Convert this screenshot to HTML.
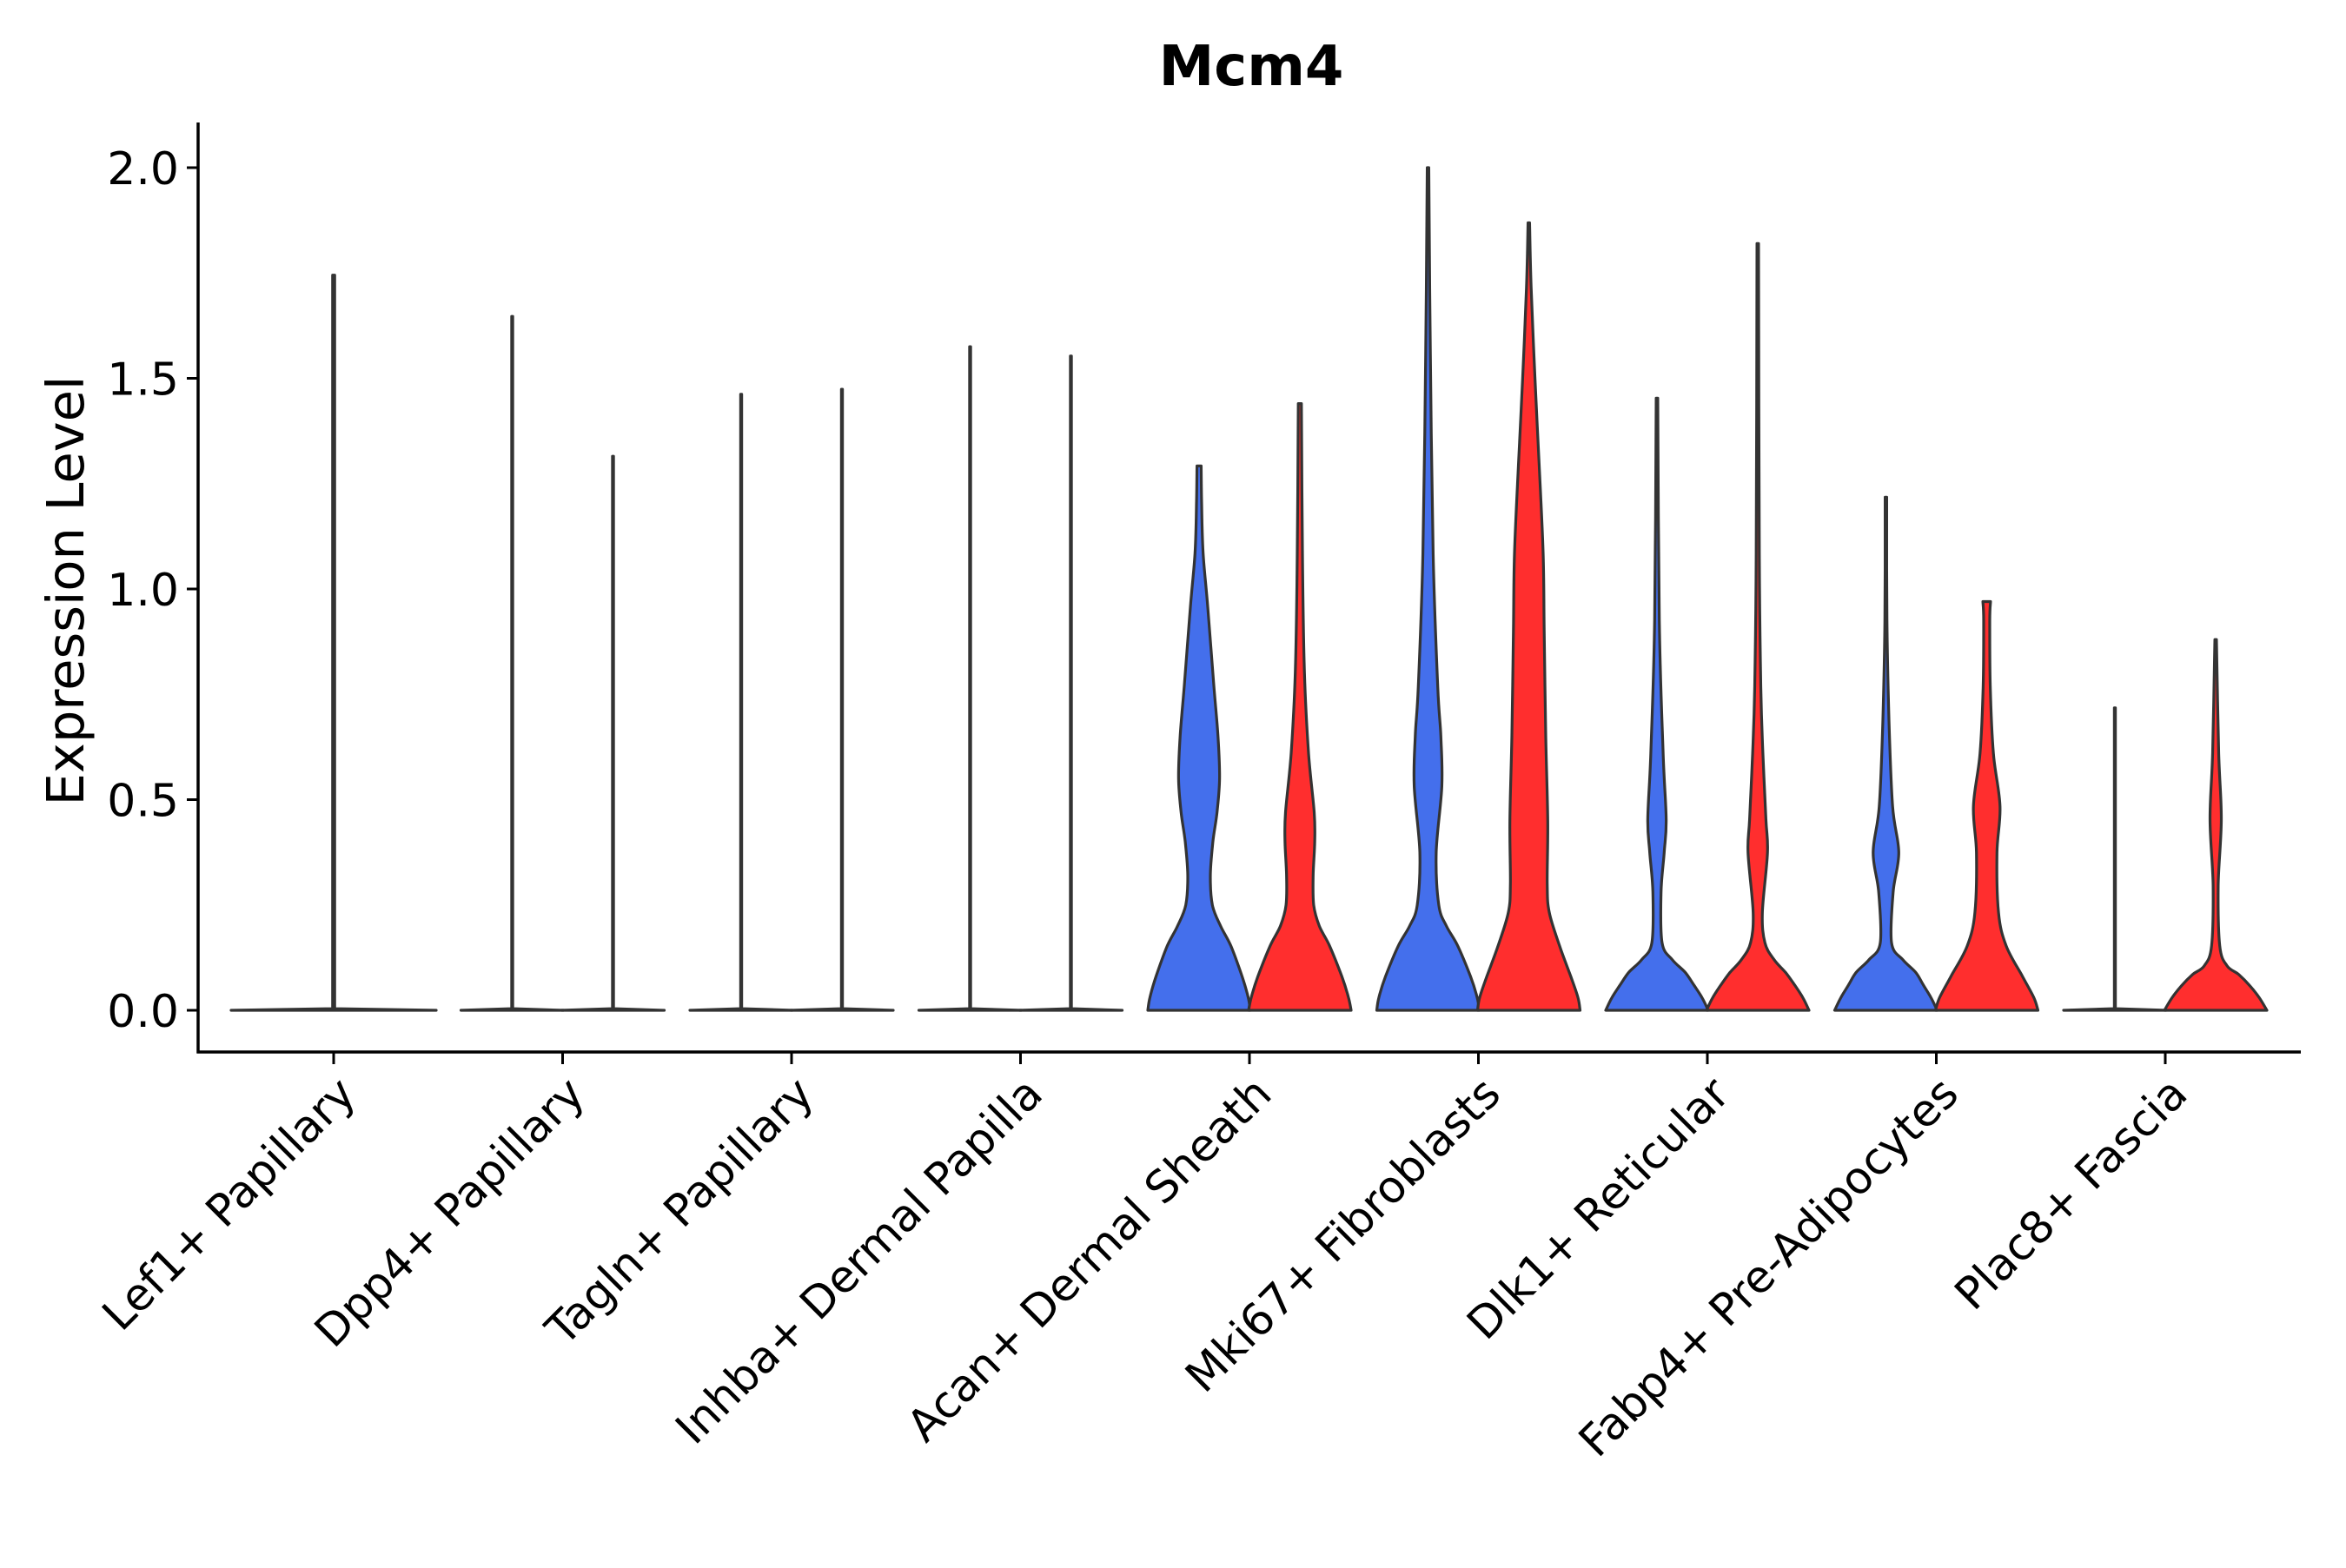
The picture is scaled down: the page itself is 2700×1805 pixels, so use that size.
<!DOCTYPE html>
<html><head><meta charset="utf-8"><style>
body{margin:0;background:#fff}
svg text{font-family:"DejaVu Sans","Liberation Sans",sans-serif}
</style></head><body>
<svg id="chart" width="2700" height="1800" viewBox="0 0 2700 1800" xmlns="http://www.w3.org/2000/svg">
<rect width="2700" height="1800" fill="#fff"/>
<text x="1440" y="98" font-size="64" font-weight="bold" text-anchor="middle">Mcm4</text>
<text transform="translate(96,680) rotate(-90)" font-size="59" text-anchor="middle">Expression Level</text>
<g id="violins"></g>
<g id="axes"></g>
</svg>
<script>
const categories = ["Lef1+ Papillary","Dpp4+ Papillary","Tagln+ Papillary","Inhba+ Dermal Papilla","Acan+ Dermal Sheath","Mki67+ Fibroblasts","Dlk1+ Reticular","Fabp4+ Pre-Adipocytes","Plac8+ Fascia"];
const yTicks = [0, 0.5, 1.0, 1.5, 2.0];
const yTickLabels = ["0.0","0.5","1.0","1.5","2.0"];
// tops of line-only violins (group1, group2)
const lineTopsG1 = [1.745, 1.647, 1.462, 1.575, null, null, null, null, 0.718];
const lineTopsG2 = [null, 1.315, 1.474, 1.553, null, null, null, null, null];
// density profiles: [value, relative half-width (0-1)]
const acanBlue = [[0,1],[0.03,0.96],[0.08,0.84],[0.153,0.62],[0.2,0.42],[0.25,0.26],[0.32,0.22],[0.4,0.27],[0.47,0.35],[0.55,0.4],[0.65,0.37],[0.768,0.29],[0.957,0.17],[1.084,0.08],[1.2,0.05],[1.292,0.04]];
const acanRed = [[0,1],[0.03,0.95],[0.08,0.82],[0.153,0.58],[0.2,0.38],[0.25,0.27],[0.32,0.26],[0.4,0.29],[0.47,0.28],[0.61,0.17],[0.8,0.09],[1.084,0.05],[1.44,0.03]];
const mkiBlue = [[0,1],[0.03,0.96],[0.08,0.83],[0.153,0.58],[0.2,0.36],[0.25,0.21],[0.374,0.16],[0.532,0.27],[0.65,0.25],[0.768,0.19],[1.084,0.1],[1.557,0.045],[2.0,0.015]];
const mkiRed = [[0,1],[0.03,0.96],[0.08,0.82],[0.153,0.6],[0.232,0.4],[0.3,0.36],[0.45,0.37],[0.65,0.33],[0.9,0.3],[1.084,0.28],[1.3,0.2],[1.5,0.12],[1.715,0.045],[1.869,0.015]];
const dlkBlue = [[0,1],[0.03,0.88],[0.06,0.72],[0.09,0.55],[0.12,0.3],[0.16,0.1],[0.28,0.08],[0.374,0.14],[0.453,0.18],[0.61,0.12],[0.926,0.045],[1.453,0.015]];
const dlkRed = [[0,1],[0.03,0.88],[0.06,0.72],[0.09,0.54],[0.12,0.32],[0.16,0.14],[0.232,0.09],[0.374,0.19],[0.453,0.16],[0.61,0.1],[0.768,0.06],[1.084,0.03],[1.82,0.015]];
const fabBlue = [[0,1],[0.03,0.88],[0.06,0.73],[0.09,0.58],[0.12,0.33],[0.16,0.11],[0.28,0.14],[0.374,0.25],[0.484,0.13],[0.689,0.06],[0.926,0.02],[1.218,0.015]];
const fabRed = [[0,1],[0.03,0.92],[0.08,0.7],[0.153,0.38],[0.232,0.23],[0.374,0.2],[0.484,0.26],[0.61,0.13],[0.768,0.07],[0.926,0.06],[0.97,0.075]];
const placRed = [[0,1],[0.03,0.85],[0.058,0.67],[0.085,0.45],[0.106,0.22],[0.153,0.08],[0.295,0.05],[0.453,0.11],[0.61,0.06],[0.88,0.015]];
const profilesG1 = [null,null,null,null,acanBlue,mkiBlue,dlkBlue,fabBlue,null];
const profilesG2 = [null,null,null,null,acanRed,mkiRed,dlkRed,fabRed,placRed];

const NS = "http://www.w3.org/2000/svg";
const plot = {left:228, right:2648, top:141, bottom:1211};
const y0 = 1163, yPerUnit = 485;
function yScale(v){ return y0 - v*yPerUnit; }
function xScale(i){ return 384 + 263.5*i; }
const subOff = 58, maxHW = 59;
const violins = document.getElementById('violins');
const axes = document.getElementById('axes');

function mk(tag, attrs){ const e=document.createElementNS(NS,tag); for(const k in attrs) e.setAttribute(k, attrs[k]); return e; }

function smoothSeg(pts){
  let d = "";
  for (let i=0;i<pts.length-1;i++){
    const p0 = pts[Math.max(0,i-1)], p1 = pts[i], p2 = pts[i+1], p3 = pts[Math.min(pts.length-1,i+2)];
    const c1 = [p1[0]+(p2[0]-p0[0])/6, p1[1]+(p2[1]-p0[1])/6];
    const c2 = [p2[0]-(p3[0]-p1[0])/6, p2[1]-(p3[1]-p1[1])/6];
    d += "C"+c1[0].toFixed(1)+","+c1[1].toFixed(1)+" "+c2[0].toFixed(1)+","+c2[1].toFixed(1)+" "+p2[0].toFixed(1)+","+p2[1].toFixed(1);
  }
  return d;
}
function drawProfile(cx, prof, hw, fill, name, smooth){
  const right = prof.map(p => [cx + p[1]*hw, yScale(p[0])]);
  const left = prof.slice().reverse().map(p => [cx - p[1]*hw, yScale(p[0])]);
  let d;
  if (smooth) {
    d = "M"+right[0][0].toFixed(1)+","+right[0][1].toFixed(1) + smoothSeg(right) +
        "L"+left[0][0].toFixed(1)+","+left[0][1].toFixed(1) + smoothSeg(left) + "Z";
  } else {
    const pts = right.concat(left);
    d = "M" + pts.map(p => p[0].toFixed(1)+","+p[1].toFixed(1)).join("L") + "Z";
  }
  const path = mk('path', {d:d, fill:fill, stroke:'#333', 'stroke-width':3.2, 'stroke-linejoin':'round'});
  
  
  violins.appendChild(path);
}
function drawLine(cx, top, hw, name){
  const prof = [[0,1],[0.004,0.01],[top,0.01]];
  drawProfile(cx, prof, hw, 'none', name, false);
}

categories.forEach((c, i) => {
  const cx = xScale(i);
  const slug = c.toLowerCase().replace(/[^a-z0-9]+/g,'-');
  if (i === 0) {
    drawLine(cx, lineTopsG1[i], maxHW*2, 'violin-' + slug);
    return;
  }
  if (profilesG1[i]) drawProfile(cx - subOff, profilesG1[i], maxHW, '#446FEC', 'violin-' + slug + '-group1', true);
  else if (lineTopsG1[i] != null) drawLine(cx - subOff, lineTopsG1[i], maxHW, 'violin-' + slug + '-group1');
  if (profilesG2[i]) drawProfile(cx + subOff, profilesG2[i], maxHW, '#FF2E2E', 'violin-' + slug + '-group2', true);
  else if (lineTopsG2[i] != null) drawLine(cx + subOff, lineTopsG2[i], maxHW, 'violin-' + slug + '-group2');
});

// axes
let l = mk('line',{x1:plot.left,y1:plot.top,x2:plot.left,y2:plot.bottom+1.5,stroke:'#000','stroke-width':3.5});
  axes.appendChild(l);
l = mk('line',{x1:plot.left-1.5,y1:plot.bottom,x2:plot.right,y2:plot.bottom,stroke:'#000','stroke-width':3.5});
  axes.appendChild(l);

yTicks.forEach((v, k) => {
  const y = yScale(v);
  const t = mk('line',{x1:plot.left-13,y1:y,x2:plot.left,y2:y,stroke:'#000','stroke-width':3});
    axes.appendChild(t);
  const tx = mk('text',{x:plot.left-22,y:y+19,'font-size':52,'text-anchor':'end',fill:'#000'});
  tx.textContent = yTickLabels[k];
    axes.appendChild(tx);
});
categories.forEach((c, i) => {
  const x = xScale(i);
  const t = mk('line',{x1:x,y1:plot.bottom,x2:x,y2:plot.bottom+14,stroke:'#000','stroke-width':3});
    axes.appendChild(t);
  const ax = x + 2, ay = 1236;
  const tx = mk('text',{x:ax,y:ay,'font-size':51,'text-anchor':'end','dominant-baseline':'hanging',transform:`rotate(-45 ${ax} ${ay})`,fill:'#000'});
  tx.textContent = c;
    axes.appendChild(tx);
});
</script>
</body></html>
